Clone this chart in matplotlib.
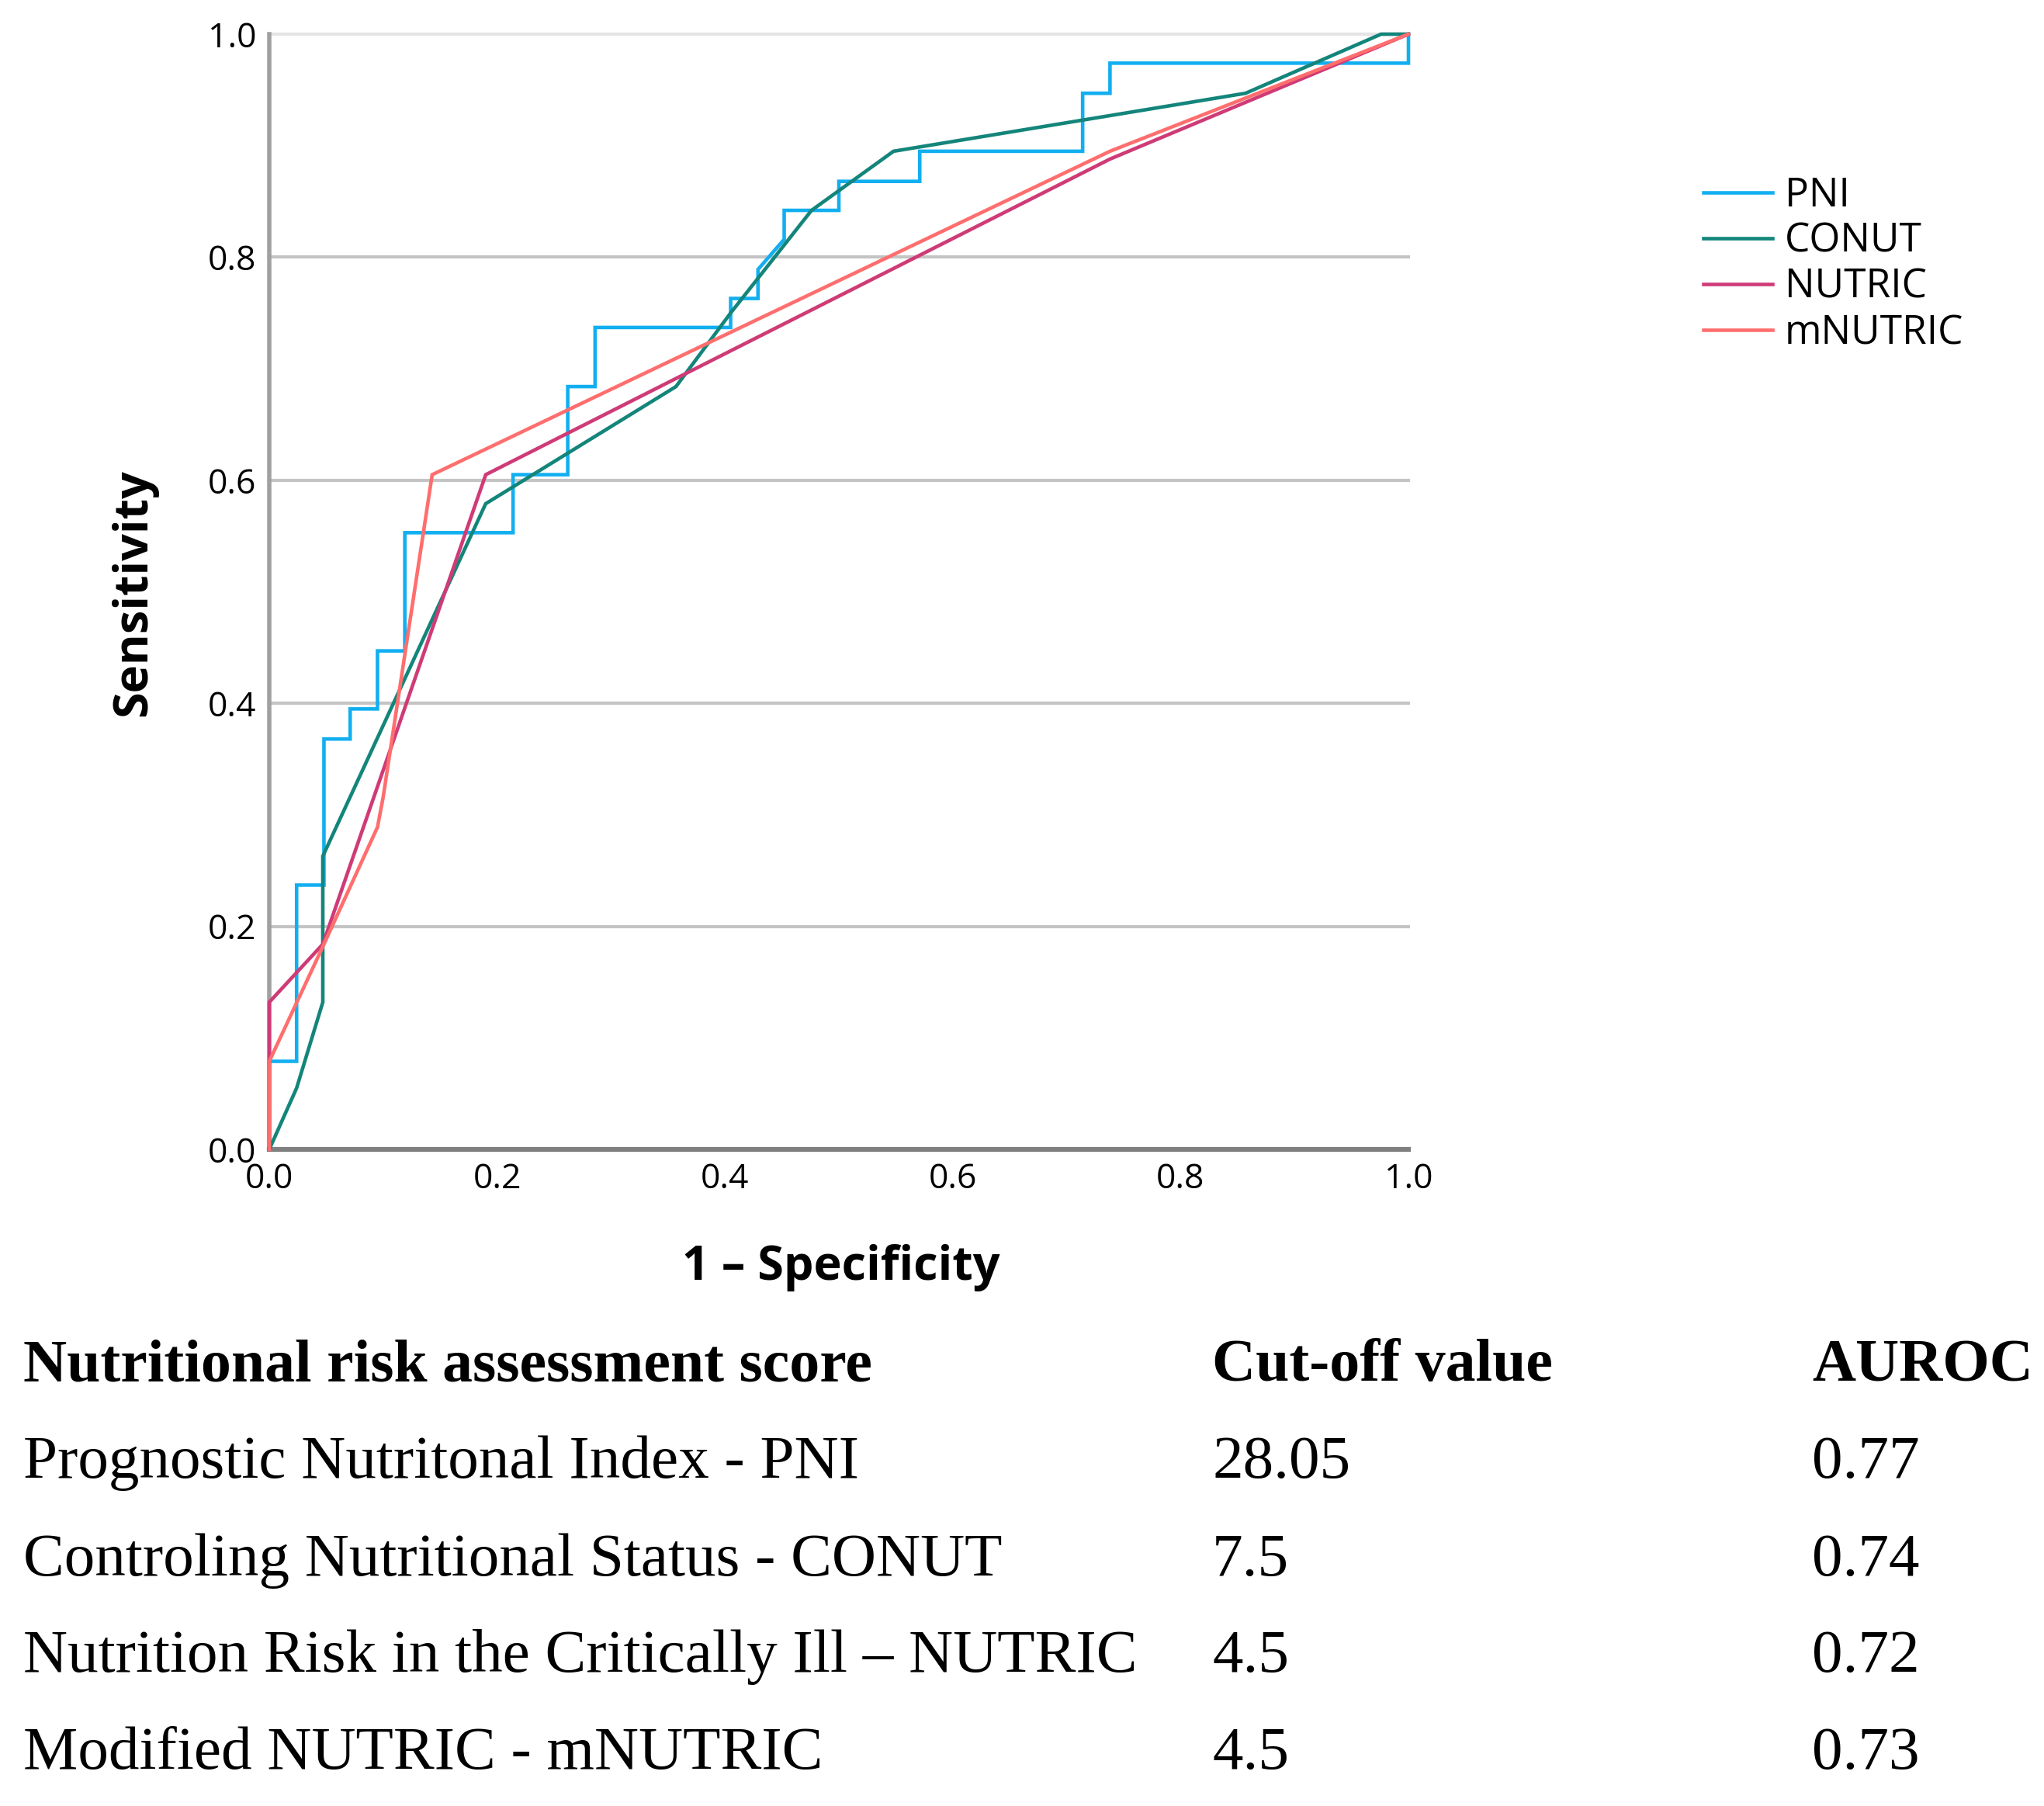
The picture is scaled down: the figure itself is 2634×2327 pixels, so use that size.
import matplotlib
matplotlib.use("Agg")
import matplotlib.pyplot as plt

# ---- ROC curve data (1 - specificity, sensitivity) ----
pni_fpr = [0, 0, 0.024, 0.024, 0.048, 0.048, 0.071, 0.071, 0.095, 0.095,
           0.119, 0.119, 0.214, 0.214, 0.262, 0.262, 0.286, 0.286, 0.405, 0.405,
           0.429, 0.429, 0.452, 0.452, 0.500, 0.500, 0.571, 0.571, 0.714, 0.714,
           0.738, 0.738, 1.0, 1.0]
pni_tpr = [0, 0.079, 0.079, 0.237, 0.237, 0.368, 0.368, 0.395, 0.395, 0.447,
           0.447, 0.553, 0.553, 0.605, 0.605, 0.684, 0.684, 0.737, 0.737, 0.763,
           0.763, 0.789, 0.816, 0.842, 0.842, 0.868, 0.868, 0.895, 0.895, 0.947,
           0.947, 0.974, 0.974, 1.0]

conut_fpr = [0, 0.024, 0.047, 0.047, 0.190, 0.357, 0.405, 0.476, 0.548, 0.857, 0.976, 1.0]
conut_tpr = [0, 0.055, 0.132, 0.263, 0.579, 0.684, 0.750, 0.842, 0.895, 0.947, 1.0, 1.0]

nutric_fpr = [0, 0, 0.047, 0.190, 0.738, 1.0]
nutric_tpr = [0, 0.132, 0.184, 0.605, 0.888, 1.0]

mnutric_fpr = [0, 0, 0.048, 0.095, 0.100, 0.143, 0.738, 1.0]
mnutric_tpr = [0, 0.079, 0.184, 0.289, 0.316, 0.605, 0.895, 1.0]

labels = ["PNI", "CONUT", "NUTRIC", "mNUTRIC"]
colors = ["#12aff0", "#13857a", "#cf3b76", "#ff6e6e"]

# ---- table under the chart ----
tbl_header = ["Nutritional risk assessment score", "Cut-off value", "AUROC"]
tbl_scores = ["Prognostic Nutritonal Index - PNI",
              "Controling Nutritional Status - CONUT",
              "Nutrition Risk in the Critically Ill \u2013 NUTRIC",
              "Modified NUTRIC - mNUTRIC"]
tbl_cutoff = ["28.05", "7.5", "4.5", "4.5"]
tbl_auroc = ["0.77", "0.74", "0.72", "0.73"]

W, H = 2634, 2327
fig = plt.figure(figsize=(W / 100, H / 100), dpi=100)
fig.patch.set_facecolor("white")

ax = fig.add_axes([347 / W, 1 - 1481 / H, (1815 - 347) / W, (1481 - 44) / H])

curves = [(pni_fpr, pni_tpr), (conut_fpr, conut_tpr),
          (nutric_fpr, nutric_tpr), (mnutric_fpr, mnutric_tpr)]
for (fx, ty), lab, col in zip(curves, labels, colors):
    ax.plot(fx, ty, color=col, lw=3.3, label=lab, clip_on=False, zorder=3,
            solid_joinstyle="miter")

ax.set_xlim(0, 1)
ax.set_ylim(0, 1)
ticks = [0, 0.2, 0.4, 0.6, 0.8, 1.0]
ax.set_xticks(ticks)
ax.set_yticks(ticks)
ax.set_xticklabels([f"{t:.1f}" for t in ticks], fontfamily="Open Sans", fontsize=32)
ax.set_yticklabels([f"{t:.1f}" for t in ticks], fontfamily="Open Sans", fontsize=32)
ax.tick_params(length=0, pad=12)

for t in ticks[1:]:
    ax.axhline(t, color="#e4e4e4" if t == 1.0 else "#c4c4c4", lw=3, zorder=1,
               clip_on=False)

for s in ["top", "right"]:
    ax.spines[s].set_visible(False)
ax.spines["left"].set_color("#a0a0a0")
ax.spines["left"].set_linewidth(4)
ax.spines["bottom"].set_color("#7f7f7f")
ax.spines["bottom"].set_linewidth(4.5)

fig.text(1084 / W, 1 - 1633 / H, "1 \u2013 Specificity", ha="center", va="center",
         fontfamily="Open Sans", fontweight="bold", fontsize=44)
fig.text(173 / W, 1 - 764 / H, "Sensitivity", ha="center", va="center",
         rotation=90, fontfamily="Open Sans", fontweight="bold", fontsize=44)

leg = fig.legend(loc="upper left", bbox_to_anchor=(2174 / W, 1 - 206 / H),
                 frameon=False, prop={"family": "Open Sans", "size": 37},
                 handlelength=1.75, handletextpad=0.3, labelspacing=0.16,
                 borderaxespad=0)

# table
col_x = [30 / W, 1562 / W, 2335 / W]
row_y = [1 - 1761 / H, 1 - 1885 / H, 1 - 2011 / H, 1 - 2135 / H, 1 - 2260 / H]
for x, txt in zip(col_x, tbl_header):
    fig.text(x, row_y[0], txt, ha="left", va="center", fontfamily="Liberation Serif",
             fontweight="bold", fontsize=56)
for i in range(len(tbl_scores)):
    for x, txt in zip(col_x, [tbl_scores[i], tbl_cutoff[i], tbl_auroc[i]]):
        fig.text(x, row_y[i + 1], txt, ha="left", va="center",
                 fontfamily="Liberation Serif", fontsize=57)

fig.savefig("out.png", dpi=100)
